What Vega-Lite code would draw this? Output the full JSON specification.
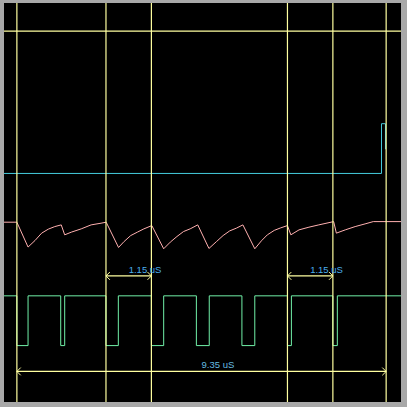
{
  "$schema": "https://vega.github.io/schema/vega-lite/v6.json",
  "autosize": {"type": "fit", "contains": "padding"},
  "width": 407,
  "height": 407,
  "padding": {"left": 2, "top": 2, "right": 4, "bottom": 4},
  "background": "#a8a8a8",
  "config": {"view": {"stroke": null, "fill": "#000000"}},
  "datasets": {
    "pink": [
      {"t": -0.326, "v": 180.7}, {"t": 0, "v": 180.7}, {"t": 0.283, "v": 155.7}, {"t": 0.459, "v": 162.3},
      {"t": 0.627, "v": 169.7}, {"t": 0.795, "v": 173.7}, {"t": 0.96, "v": 176.3}, {"t": 1.123, "v": 178},
      {"t": 1.211, "v": 168}, {"t": 1.379, "v": 170.7}, {"t": 1.629, "v": 174}, {"t": 1.88, "v": 178},
      {"t": 2.131, "v": 179.7}, {"t": 2.261, "v": 180.7}, {"t": 2.574, "v": 155.3}, {"t": 2.715, "v": 161.3},
      {"t": 2.883, "v": 167.3}, {"t": 3.051, "v": 170.7}, {"t": 3.216, "v": 174}, {"t": 3.417, "v": 177.3},
      {"t": 3.717, "v": 154}, {"t": 3.885, "v": 160.7}, {"t": 4.053, "v": 166.3}, {"t": 4.219, "v": 171.3},
      {"t": 4.387, "v": 174}, {"t": 4.58, "v": 178}, {"t": 4.863, "v": 154.3}, {"t": 5.056, "v": 161.3},
      {"t": 5.222, "v": 167.3}, {"t": 5.39, "v": 172}, {"t": 5.557, "v": 174.7}, {"t": 5.723, "v": 178},
      {"t": 6.024, "v": 154}, {"t": 6.192, "v": 162}, {"t": 6.342, "v": 168}, {"t": 6.518, "v": 172.5},
      {"t": 6.68, "v": 175}, {"t": 6.851, "v": 177.3}, {"t": 6.937, "v": 168}, {"t": 7.144, "v": 173},
      {"t": 7.395, "v": 175.7}, {"t": 7.645, "v": 178}, {"t": 8.021, "v": 181.3}, {"t": 8.089, "v": 169.7},
      {"t": 8.315, "v": 173}, {"t": 8.565, "v": 176.3}, {"t": 8.816, "v": 179}, {"t": 9.024, "v": 181.3},
      {"t": 9.726, "v": 181.3}
    ],
    "cyan": [
      {"t": -0.326, "v": 229.7}, {"t": 9.232, "v": 229.7}, {"t": 9.232, "v": 279.7},
      {"t": 9.333, "v": 279.7}, {"t": 9.333, "v": 254}
    ],
    "green": [
      {"t": -0.326, "v": 106.7}, {"t": 0, "v": 56.7}, {"t": 0.283, "v": 106.7}, {"t": 1.11, "v": 56.7},
      {"t": 1.211, "v": 106.7}, {"t": 2.256, "v": 56.7}, {"t": 2.569, "v": 106.7}, {"t": 3.406, "v": 56.7},
      {"t": 3.717, "v": 106.7}, {"t": 4.545, "v": 56.7}, {"t": 4.871, "v": 106.7}, {"t": 5.698, "v": 56.7},
      {"t": 6.024, "v": 106.7}, {"t": 6.851, "v": 56.7}, {"t": 6.951, "v": 106.7}, {"t": 8.001, "v": 56.7},
      {"t": 8.114, "v": 106.7}, {"t": 9.726, "v": 106.7}
    ],
    "cursors": [
      {"t": 0}, {"t": 2.256}, {"t": 3.406}, {"t": 6.851}, {"t": 8.001}, {"t": 9.35}
    ],
    "hcursor": [{"v": 372.7}],
    "arrows": [
      {"t1": 2.256, "t2": 3.406, "tm": 2.831, "v": 126.7, "lv": 129.7, "label": "1.15 uS", "col": "a"},
      {"t1": 6.851, "t2": 8.001, "tm": 7.426, "v": 126.7, "lv": 129.7, "label": "1.15 uS", "col": "a"},
      {"t1": 0, "t2": 9.35, "tm": 4.675, "v": 30.7, "lv": 33.7, "label": "9.35 uS", "col": "b"}
    ]
  },
  "layer": [
    {
      "data": {"name": "pink"},
      "mark": {"type": "line", "color": "#ffb0b0", "strokeWidth": 1},
      "encoding": {
        "x": {"field": "t", "type": "quantitative", "scale": {"domain": [-0.326, 9.726], "nice": false, "zero": false}, "axis": null},
        "y": {"field": "v", "type": "quantitative", "scale": {"domain": [0, 401], "nice": false, "zero": false}, "axis": null},
        "order": {"field": "t", "type": "quantitative"}
      }
    },
    {
      "data": {"name": "cyan"},
      "mark": {"type": "line", "color": "#44ccdd", "strokeWidth": 1},
      "encoding": {
        "x": {"field": "t", "type": "quantitative"},
        "y": {"field": "v", "type": "quantitative"},
        "order": {"field": "t", "type": "quantitative"}
      }
    },
    {
      "data": {"name": "green"},
      "mark": {"type": "line", "color": "#70f0a8", "strokeWidth": 1, "interpolate": "step-after"},
      "encoding": {
        "x": {"field": "t", "type": "quantitative"},
        "y": {"field": "v", "type": "quantitative"}
      }
    },
    {
      "data": {"name": "cursors"},
      "mark": {"type": "rule", "color": "#ffffa0", "strokeWidth": 1.2},
      "encoding": {"x": {"field": "t", "type": "quantitative"}}
    },
    {
      "data": {"name": "hcursor"},
      "mark": {"type": "rule", "color": "#ffffa0", "strokeWidth": 1.2},
      "encoding": {"y": {"field": "v", "type": "quantitative"}}
    },
    {
      "data": {"name": "arrows"},
      "mark": {"type": "rule", "color": "#ffffa0", "strokeWidth": 1.2},
      "encoding": {
        "x": {"field": "t1", "type": "quantitative"},
        "x2": {"field": "t2"},
        "y": {"field": "v", "type": "quantitative"}
      }
    },
    {
      "data": {"name": "arrows"},
      "mark": {"type": "point", "shape": "M1,-1L0,0L1,1", "filled": false, "color": "#ffffa0", "strokeWidth": 1, "size": 60, "opacity": 1},
      "encoding": {
        "x": {"field": "t1", "type": "quantitative"},
        "y": {"field": "v", "type": "quantitative"}
      }
    },
    {
      "data": {"name": "arrows"},
      "mark": {"type": "point", "shape": "M-1,-1L0,0L-1,1", "filled": false, "color": "#ffffa0", "strokeWidth": 1, "size": 60, "opacity": 1},
      "encoding": {
        "x": {"field": "t2", "type": "quantitative"},
        "y": {"field": "v", "type": "quantitative"}
      }
    },
    {
      "data": {"name": "arrows"},
      "mark": {"type": "text", "align": "left", "baseline": "alphabetic", "font": "Liberation Sans", "fontSize": 9.5},
      "encoding": {
        "x": {"field": "tm", "type": "quantitative"},
        "y": {"field": "lv", "type": "quantitative"},
        "text": {"field": "label"},
        "color": {"field": "col", "type": "nominal", "scale": {"domain": ["a", "b"], "range": ["#4aaeee", "#66bde0"]}, "legend": null}
      }
    }
  ]
}
